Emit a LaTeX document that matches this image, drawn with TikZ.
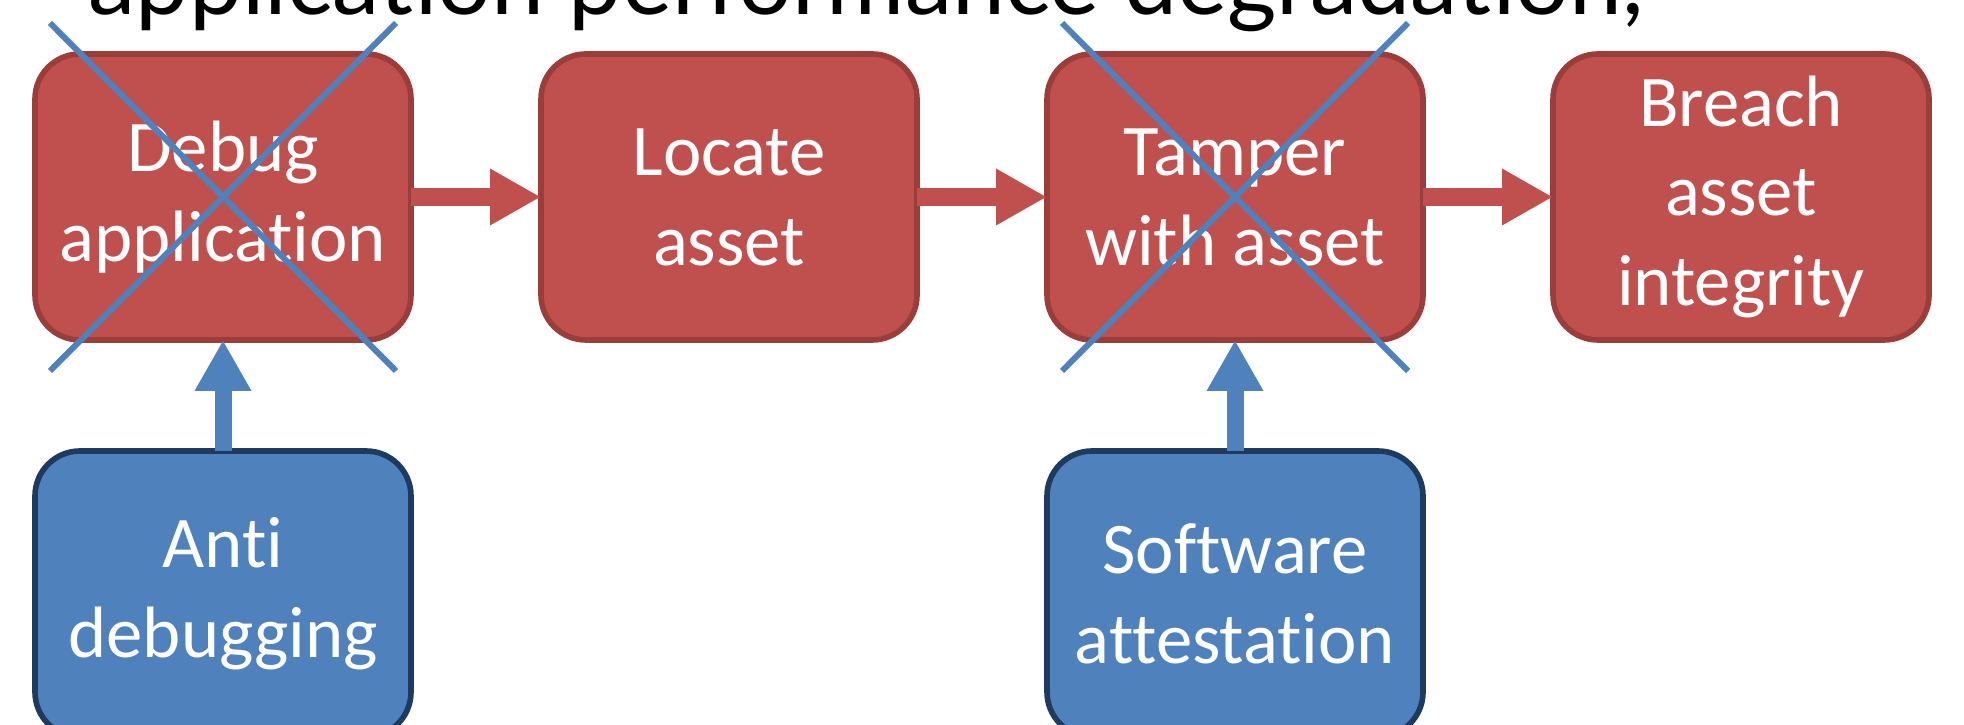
\documentclass[tikz,border=0pt]{standalone}
\usepackage{fontspec}
\setmainfont{Carlito}[Ligatures=NoCommon]
\newfontfamily\headfont{Lato}
\usetikzlibrary{positioning,arrows.meta}

\definecolor{stepred}{HTML}{C0504D}
\definecolor{stepredline}{HTML}{9B3D3A}
\definecolor{guardblue}{HTML}{4F81BD}
\definecolor{guardblueline}{HTML}{1F3A5F}

\begin{document}
\begin{tikzpicture}[
		stage/.style={rectangle, rounded corners=4.5mm, fill=stepred, draw=stepredline, line width=1.6pt,
			minimum width=3.76cm, minimum height=2.86cm, inner sep=0pt, outer sep=0pt,
			align=center, text=white, font=\fontsize{20.7}{25.6}\selectfont},
		guard/.style={stage, fill=guardblue, draw=guardblueline},
		flow/.style={draw=stepred, line width=1.8mm, -{Triangle[width=5.3mm,length=5.1mm]}},
		protect/.style={flow, draw=guardblue, line width=1.7mm},
		strike/.style={draw=guardblue, line width=1.7pt}
	]
				\useasboundingbox (0,0) rectangle (19.64,7.25);
				\node[anchor=base west, inner sep=0pt, font=\headfont\fontsize{27}{31}\selectfont] (title) at (0.88,7.10) {application performance degradation,};
				\node[stage] (debug) at (2.23,5.28) {Debug\\application};
				\node[stage, right=1.30cm of debug] (locate) {Locate\\asset};
				\node[stage, right=1.30cm of locate] (tamper) {Tamper\\with asset};
				\node[stage, right=1.30cm of tamper] (breach) {Breach\\asset\\integrity};
				\node[guard, below=1.11cm of debug] (anti) {Anti\\debugging};
				\node[guard, below=1.11cm of tamper] (attest) {Software\\attestation};
				\draw[flow] (debug) -- (locate);
				\draw[flow] (locate) -- (tamper);
				\draw[flow] (tamper) -- (breach);
				\draw[protect] (anti) -- (debug);
				\draw[protect] (attest) -- (tamper);
				% crossed-out steps
				\foreach \n in {debug,tamper}{
					\draw[strike] (\n.center) +(-1.73,1.74) -- +(1.73,-1.74);
					\draw[strike] (\n.center) +(1.73,1.74) -- +(-1.73,-1.74);
				}
			\end{tikzpicture}
\end{document}
